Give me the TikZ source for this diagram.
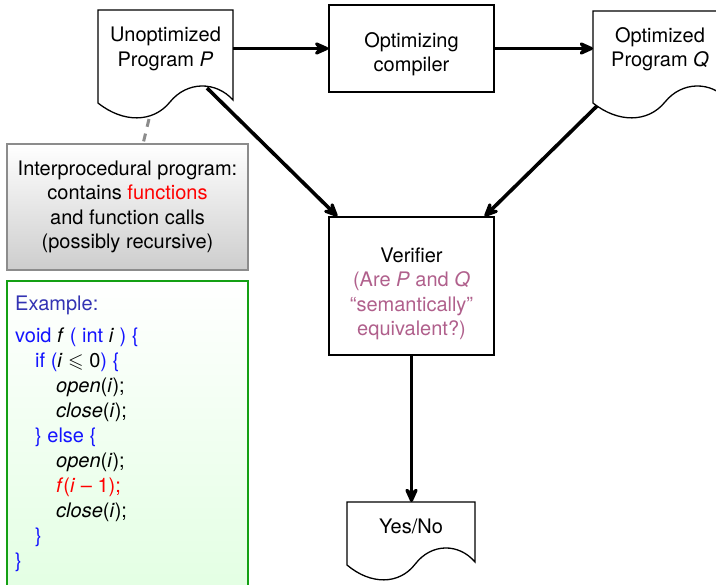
\documentclass[tikz,border=0pt]{standalone}
\usepackage{amssymb}
\usepackage{fontspec}
\setmainfont{TeX Gyre Heros}
\usetikzlibrary{arrows.meta,calc}

\definecolor{exblue}{RGB}{51,51,179}
\definecolor{kwblue}{RGB}{20,20,255}
\definecolor{hlred}{RGB}{255,0,0}
\definecolor{askpink}{RGB}{176,96,140}
\definecolor{boxgreen}{RGB}{20,160,20}
\definecolor{greenbg}{RGB}{226,255,226}
\definecolor{graybot}{RGB}{205,205,205}
\definecolor{grayedge}{RGB}{140,140,140}

\tikzset{
  box/.style={draw, line width=1.3pt, minimum width=165pt, inner sep=0pt},
  docline/.style={line width=1.3pt, fill=white},
  flow/.style={line width=3.6pt, -{Stealth[length=19pt,width=17pt,inset=7pt,round]}},
  lbl/.style={align=center, font=\fontsize{20}{24.5}\selectfont, inner sep=0pt},
}

% document shape: left x, top y, width, height of the left side
\newcommand{\docshape}[4]{%
  \begin{scope}[shift={(#1,#2)},xscale=#3/135]
    \draw[docline] (0,0) -- (135,0) -- (135,#4-3)
      .. controls (118,#4-22) and (89,#4-22) .. (72,#4-1)
      .. controls (55,#4+20) and (25,#4+20) .. (0,#4) -- cycle;
  \end{scope}}
\newcommand{\kw}[1]{{\color{kwblue}#1}}

\begin{document}
\begin{tikzpicture}[x=1pt,y=-1pt]
\useasboundingbox (0,0) rectangle (716,585);

% left column: note and example
\node[lbl, draw=grayedge, line width=1.3pt, top color=white, bottom color=graybot,
  minimum width=241pt, minimum height=126pt] (G) at (127.5,207)
  {Interprocedural program:\\contains \textcolor{hlred}{functions}\\and function calls\\(possibly recursive)};
\node[draw=boxgreen, line width=2pt, top color=white, bottom color=greenbg,
  minimum width=241pt, minimum height=320pt, anchor=north] (E) at (127.5,280) {};
\node[lbl, align=left, anchor=north west, font=\fontsize{20}{25}\selectfont] (code) at (15,296)
  {{\color{exblue}Example:}\\[7pt]
   \kw{void} \textit{f} \kw{( int} \textit{i} \kw{) \{}\\
   \hspace*{20pt}\kw{if (}\textit{i} $\leqslant$ 0\kw{) \{}\\
   \hspace*{41pt}\textit{open}(\textit{i});\\
   \hspace*{41pt}\textit{close}(\textit{i});\\
   \hspace*{20pt}\kw{\} else \{}\\
   \hspace*{41pt}\textit{open}(\textit{i});\\
   \hspace*{41pt}{\color{hlred}\textit{f}(\textit{i} – 1);}\\
   \hspace*{41pt}\textit{close}(\textit{i});\\
   \hspace*{20pt}\kw{\}}\\
   \kw{\}}};

% programs and compiler
\docshape{98}{10}{135}{93}
\node[lbl] (P) at (165.5,49) {Unoptimized\\Program \textit{P}};
\node[box, minimum height=87pt] (C) at (411.5,48.5) {};
\node[lbl] (Ct) at (411.5,54) {Optimizing\\compiler};
\docshape{593}{11}{135}{92}
\node[lbl] (Q) at (660,49) {Optimized\\Program \textit{Q}};

% verifier and result
\node[box, minimum height=138pt] (V) at (411.5,286) {};
\node[lbl] (Vt) at (411.5,294) {Verifier\\
  \textcolor{askpink}{(Are \textit{P} and \textit{Q}}\\
  \textcolor{askpink}{``semantically''}\\
  \textcolor{askpink}{equivalent?)}};
\docshape{347}{502}{128}{63}
\node[lbl] (YN) at (411,526) {Yes/No};

% connector end points on the document outlines
\coordinate (P-east) at (233,48.5);
\coordinate (P-out) at (207,88);
\coordinate (P-dip) at (149,119);
\coordinate (G-top) at (143,144);
\coordinate (Q-west) at (593,48.5);
\coordinate (Q-out) at (597,106);
\coordinate (YN-top) at (411.5,502);

\draw[grayedge, line width=3pt, dash pattern=on 8pt off 7pt] (P-dip) -- (G-top);
\draw[flow] (P-east) -- (C.west);
\draw[flow] (C.east) -- (Q-west);
\draw[flow] (P-out) -- ($(V.north west)+(9,0)$);
\draw[flow] (Q-out) -- ($(V.north east)+(-10,0)$);
\draw[flow] (V.south) -- (YN-top);
\end{tikzpicture}
\end{document}
